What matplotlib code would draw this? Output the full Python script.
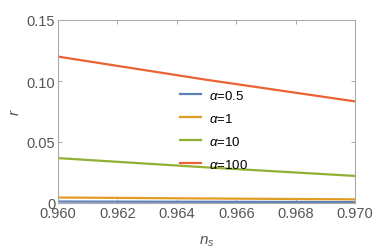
import matplotlib.pyplot as plt

ns = [0.960, 0.965, 0.970]
r_05 = [0.0012, 0.0010, 0.0008]
r_1 = [0.0045, 0.0037, 0.0030]
r_10 = [0.0368, 0.0292, 0.0222]
r_100 = [0.1200, 0.1010, 0.0833]
labels = [r"$\alpha$=0.5", r"$\alpha$=1", r"$\alpha$=10", r"$\alpha$=100"]
colors = ["#5E81B5", "#E19C24", "#8FB032", "#EB6235"]

plt.rcParams["font.family"] = ["Liberation Sans", "DejaVu Sans"]
plt.rcParams["mathtext.fontset"] = "custom"
plt.rcParams["mathtext.it"] = "Liberation Sans:italic"
plt.rcParams["mathtext.rm"] = "Liberation Sans"

fig = plt.figure(figsize=(3.74, 2.53), dpi=100)
ax = fig.add_axes([58 / 374, 1 - 204 / 253, (355 - 58) / 374, (204 - 21) / 253])

for y, lab, c in zip([r_05, r_1, r_10, r_100], labels, colors):
    ax.plot(ns, y, color=c, lw=1.6, label=lab)

ax.set_xlim(0.960, 0.970)
ax.set_ylim(0, 0.15)
ax.set_xticks([0.960, 0.962, 0.964, 0.966, 0.968, 0.970])
ax.set_yticks([0, 0.05, 0.10, 0.15])
ax.set_yticklabels(["0", "0.05", "0.10", "0.15"])
ax.set_xticklabels(["0.960", "0.962", "0.964", "0.966", "0.968", "0.970"])
ax.tick_params(direction="in", length=3, width=0.6, color="#999999",
               labelsize=10.5, labelcolor="#555555", top=True, right=True, pad=2)
for s in ax.spines.values():
    s.set_color("#aaaaaa")
    s.set_linewidth(0.8)

ax.set_xlabel(r"$n_s$", fontsize=11, color="#555555", labelpad=10)
ax.set_ylabel(r"$r$", fontsize=11, color="#555555", labelpad=3)

leg = ax.legend(loc="center", bbox_to_anchor=(0.525, 0.40), frameon=False,
                fontsize=9.5, handlelength=1.6, labelspacing=0.75, handletextpad=0.6)

fig.savefig("out.png", dpi=100)
